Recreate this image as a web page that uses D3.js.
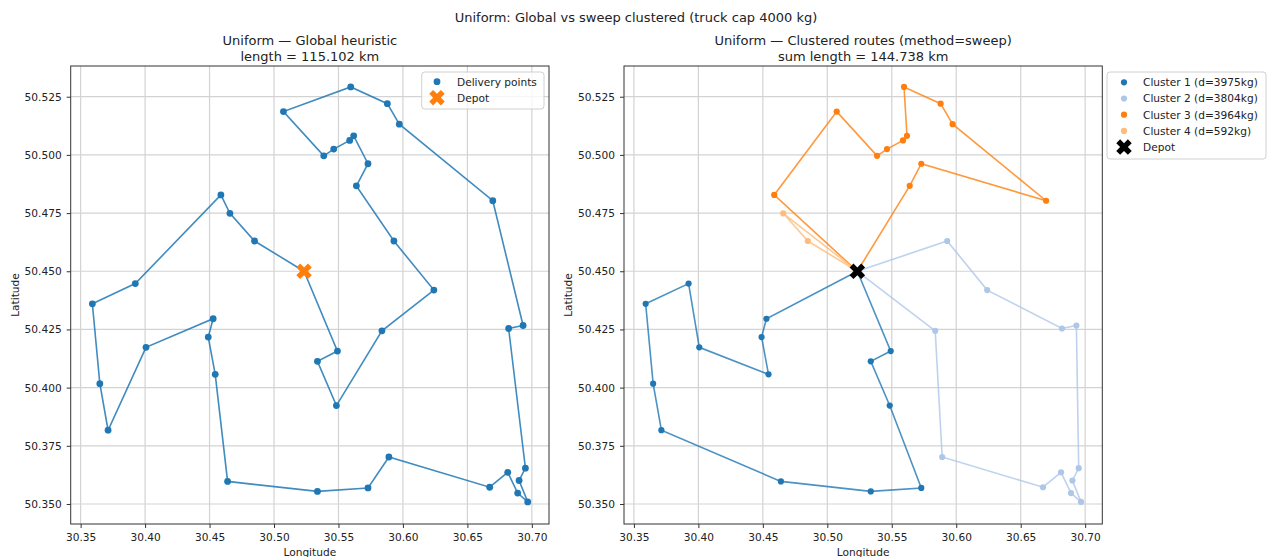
<!DOCTYPE html>
<html>
<head>
<meta charset="utf-8">
<script src="https://cdn.jsdelivr.net/npm/d3@7"></script>
<style>
  body { margin: 0; background: #fff; }
  text { font-family: "DejaVu Sans", sans-serif; fill: #222; }
</style>
</head>
<body>
<div id="chart"></div>
<script>
"use strict";

// delivery points (grouped by cluster, in each cluster's route order)
var lon = [
    30.4528, 30.4490, 30.4544, 30.4007, 30.3924, 30.3591, 30.3649, 30.3713, 30.4640, 30.5337, 30.5729, 30.5484, 30.5337, 30.5492,
    30.5930, 30.6240, 30.6820, 30.6932, 30.6950, 30.6901, 30.6968, 30.6890, 30.6813, 30.6673, 30.5891, 30.5837,
    30.5639, 30.5729, 30.6697, 30.5972, 30.5879, 30.5595, 30.5618, 30.5587, 30.5463, 30.5386, 30.5073, 30.4588,
    30.4658, 30.4849
];
var lat = [
    50.4296, 50.4217, 50.4057, 50.4173, 50.4447, 50.4360, 50.4017, 50.3817, 50.3597, 50.3554, 50.3569, 50.3923, 50.4113, 50.4157,
    50.4630, 50.4419, 50.4254, 50.4267, 50.3654, 50.3601, 50.3509, 50.3547, 50.3636, 50.3572, 50.3702, 50.4244,
    50.4867, 50.4962, 50.4803, 50.5132, 50.5220, 50.5292, 50.5082, 50.5062, 50.5025, 50.4996, 50.5186, 50.4828,
    50.4749, 50.4630
];
var depot = [30.5233, 50.4500];

// global heuristic tour (indices into lon/lat, depot at both ends)
var globalOrder = [39, 38, 37, 4, 5, 6, 7, 3, 0, 1, 2, 8, 9, 10, 24, 23, 22, 21, 20, 19, 18, 16, 17,
    28, 29, 30, 31, 36, 35, 34, 33, 32, 27, 26, 14, 15, 25, 11, 12, 13];

// sweep clusters, each a route from the depot
var clusterOrders = [
    [0, 1, 2, 3, 4, 5, 6, 7, 8, 9, 10, 11, 12, 13],
    [14, 15, 16, 17, 18, 19, 20, 21, 22, 23, 24, 25],
    [26, 27, 28, 29, 30, 31, 32, 33, 34, 35, 36, 37],
    [38, 39]
];
var clusterLabels = ["Cluster 1 (d=3975kg)", "Cluster 2 (d=3804kg)", "Cluster 3 (d=3964kg)", "Cluster 4 (d=592kg)"];
var clusterColors = ["#1f77b4", "#aec7e8", "#ff7f0e", "#ffbb78"];

var xTicks = [30.35, 30.40, 30.45, 30.50, 30.55, 30.60, 30.65, 30.70];
var yTicks = [50.350, 50.375, 50.400, 50.425, 50.450, 50.475, 50.500, 50.525];

var width = 1269;
var height = 557;

var svg = d3.select("#chart").append("svg").attr("width", width).attr("height", height);

svg.append("text").attr("x", 636).attr("y", 22).attr("text-anchor", "middle")
    .style("font-size", "13px").text("Uniform: Global vs sweep clustered (truck cap 4000 kg)");

var plotTop = 66, plotBottom = 524, panelW = 478.3;

function makePanel(left, title1, title2) {
    var x = d3.scaleLinear().domain([30.3423, 30.7133]).range([left, left + panelW]);
    var y = d3.scaleLinear().domain([50.3414, 50.5382]).range([plotBottom, plotTop]);
    var g = svg.append("g");

    //grid
    g.selectAll("line.gx").data(xTicks).enter().append("line")
        .attr("x1", function (d) { return x(d); }).attr("x2", function (d) { return x(d); })
        .attr("y1", plotTop).attr("y2", plotBottom)
        .style("stroke", "#d3d3d3").style("stroke-width", 1.2);
    g.selectAll("line.gy").data(yTicks).enter().append("line")
        .attr("y1", function (d) { return y(d); }).attr("y2", function (d) { return y(d); })
        .attr("x1", left).attr("x2", left + panelW)
        .style("stroke", "#d3d3d3").style("stroke-width", 1.2);

    //axes
    var xAxis = g.append("g").attr("transform", "translate(0," + plotBottom + ")")
        .call(d3.axisBottom(x).tickValues(xTicks).tickFormat(d3.format(".2f")).tickSizeOuter(0).tickSize(4).tickPadding(5));
    var yAxis = g.append("g").attr("transform", "translate(" + left + ",0)")
        .call(d3.axisLeft(y).tickValues(yTicks).tickFormat(d3.format(".3f")).tickSizeOuter(0).tickSize(4).tickPadding(5));
    [xAxis, yAxis].forEach(function (a) {
        a.select(".domain").remove();
        a.selectAll("line").style("stroke", "#333");
        a.selectAll("text").style("font-size", "10.6px").style("font-family", "DejaVu Sans, sans-serif").style("fill", "#222");
    });

    g.append("rect").attr("x", left).attr("y", plotTop).attr("width", panelW).attr("height", plotBottom - plotTop)
        .style("fill", "none").style("stroke", "#333").style("stroke-width", 1);

    g.append("text").attr("x", left + panelW / 2).attr("y", 45).attr("text-anchor", "middle")
        .style("font-size", "13px").text(title1);
    g.append("text").attr("x", left + panelW / 2).attr("y", 61).attr("text-anchor", "middle")
        .style("font-size", "13px").text(title2);
    g.append("text").attr("x", left + panelW / 2).attr("y", 556).attr("text-anchor", "middle")
        .style("font-size", "10.6px").text("Longitude");
    g.append("text").attr("transform", "translate(" + (left - 52) + "," + ((plotTop + plotBottom) / 2) + ") rotate(-90)")
        .attr("text-anchor", "middle").style("font-size", "10.6px").text("Latitude");

    return { g: g, x: x, y: y };
}

var depotSymbol = d3.symbol().type(d3.symbolCross).size(150);

function drawDepot(p, cx, cy, colour) {
    p.g.append("path").attr("d", depotSymbol())
        .attr("transform", "translate(" + cx + "," + cy + ") rotate(45)")
        .style("fill", colour);
}

function routeLine(p, order) {
    return d3.line()
        .x(function (d) { return d === -1 ? p.x(depot[0]) : p.x(lon[d]); })
        .y(function (d) { return d === -1 ? p.y(depot[1]) : p.y(lat[d]); })(order);
}

// left panel: one global tour
var left = makePanel(70.7, "Uniform \u2014 Global heuristic", "length = 115.102 km");
left.g.append("path").attr("d", routeLine(left, [-1].concat(globalOrder, [-1])))
    .style("fill", "none").style("stroke", "#1f77b4").style("stroke-width", 1.6).style("opacity", 0.85);
left.g.selectAll("circle.pt").data(d3.range(lon.length)).enter().append("circle")
    .attr("cx", function (d) { return left.x(lon[d]); })
    .attr("cy", function (d) { return left.y(lat[d]); })
    .attr("r", 3.4).style("fill", "#1f77b4");
drawDepot(left, left.x(depot[0]), left.y(depot[1]), "#ff7f0e");

// legend left
var lg = left.g.append("g");
lg.append("rect").attr("x", 421.7).attr("y", 72).attr("width", 122.3).attr("height", 37).attr("rx", 3)
    .style("fill", "#fff").style("fill-opacity", 0.8).style("stroke", "#d0d0d0");
lg.append("circle").attr("cx", 437).attr("cy", 81.7).attr("r", 3.4).style("fill", "#1f77b4");
lg.append("path").attr("d", depotSymbol()).attr("transform", "translate(437,97.7) rotate(45)").style("fill", "#ff7f0e");
lg.append("text").attr("x", 457).attr("y", 85.5).style("font-size", "10.6px").text("Delivery points");
lg.append("text").attr("x", 457).attr("y", 101.5).style("font-size", "10.6px").text("Depot");

// right panel: sweep clusters
var right = makePanel(624, "Uniform \u2014 Clustered routes (method=sweep)", "sum length = 144.738 km");
clusterOrders.forEach(function (order, c) {
    right.g.append("path").attr("d", routeLine(right, [-1].concat(order, [-1])))
        .style("fill", "none").style("stroke", clusterColors[c]).style("stroke-width", 1.6).style("opacity", 0.8);
    right.g.selectAll("circle.c" + c).data(order).enter().append("circle")
        .attr("cx", function (d) { return right.x(lon[d]); })
        .attr("cy", function (d) { return right.y(lat[d]); })
        .attr("r", 3.1).style("fill", clusterColors[c]);
});
drawDepot(right, right.x(depot[0]), right.y(depot[1]), "#000");

// legend right
var rg = right.g.append("g");
rg.append("rect").attr("x", 1107).attr("y", 72).attr("width", 159).attr("height", 87).attr("rx", 3)
    .style("fill", "#fff").style("fill-opacity", 0.8).style("stroke", "#d0d0d0");
clusterLabels.forEach(function (label, i) {
    var cy = 82.3 + i * 16.2;
    rg.append("circle").attr("cx", 1124).attr("cy", cy).attr("r", 3.1).style("fill", clusterColors[i]);
    rg.append("text").attr("x", 1143).attr("y", cy + 3.8).style("font-size", "10.6px").text(label);
});
rg.append("path").attr("d", depotSymbol()).attr("transform", "translate(1124,147.1) rotate(45)").style("fill", "#000");
rg.append("text").attr("x", 1143).attr("y", 150.9).style("font-size", "10.6px").text("Depot");
</script>
</body>
</html>
